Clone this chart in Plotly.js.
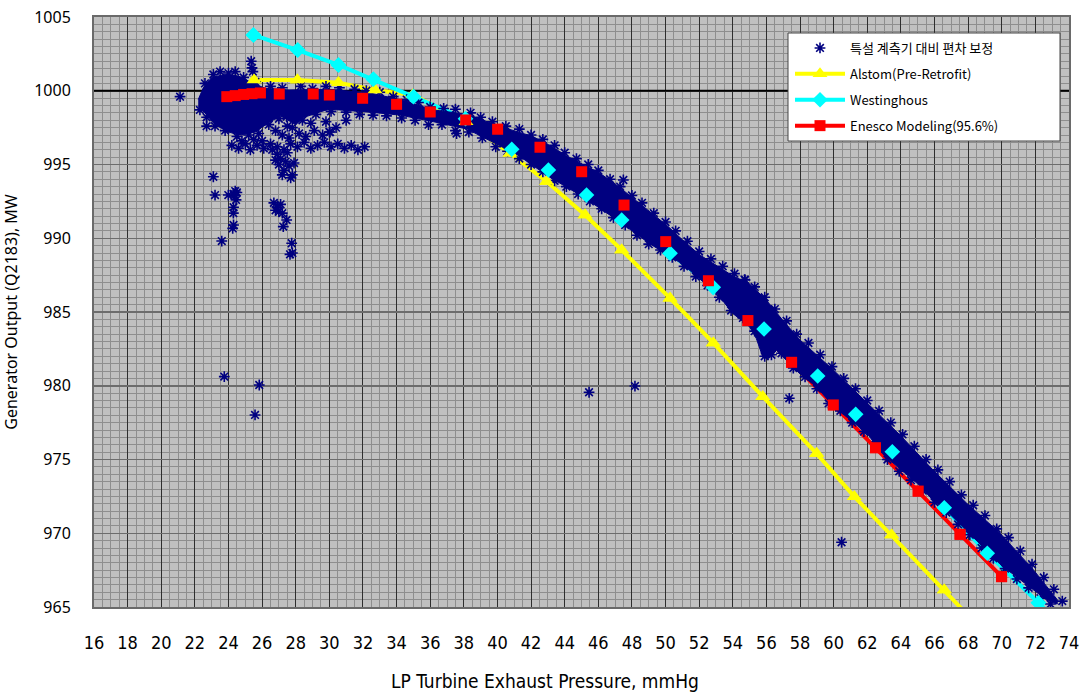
<!DOCTYPE html>
<html>
<head>
<meta charset="utf-8">
<script src="https://cdn.plot.ly/plotly-3.0.1.min.js"></script>
<style>html,body{margin:0;padding:0;background:#fff;}#chart{width:1083px;height:694px;}</style>
</head>
<body>
<div id="chart"></div>
<script>
// ---------- series names ----------
const scatterName = '특설 계측기 대비 편차 보정';
const alstomName = 'Alstom(Pre-Retrofit)';
const westName = 'Westinghous';
const enescoName = 'Enesco Modeling(95.6%)';

// ---------- design curves ----------
const alstomX = [25.52, 28.1, 30.54, 32.72, 34.96, 38.13, 40.75, 42.93, 45.21, 47.39, 50.27, 52.84, 55.78, 58.99, 61.23, 63.45, 66.58, 69.7];
const alstomY = [1000.73, 1000.73, 1000.55, 1000.05, 999.71, 997.9, 995.76, 993.84, 991.58, 989.2, 985.93, 982.9, 979.26, 975.4, 972.48, 969.88, 966.15, 962.4];

const westX = [25.48, 28.12, 30.54, 32.62, 35.0, 38.1, 40.85, 43.03, 45.3, 47.39, 50.27, 52.84, 55.86, 59.05, 61.31, 63.49, 66.58, 69.14, 72.18, 73.6];
const westY = [1003.78, 1002.76, 1001.75, 1000.78, 999.6, 998.1, 996.03, 994.63, 992.93, 991.24, 988.98, 986.67, 983.85, 980.66, 978.06, 975.53, 971.73, 968.64, 965.29, 963.7];

const enescoX = [23.9, 24.4, 24.9, 25.4, 25.9, 27.02, 29.04, 30.0, 31.98, 34.0, 36.0, 38.11, 40.01, 42.53, 45.01, 47.53, 50.01, 52.55, 54.9, 57.5, 59.98, 62.49, 65.03, 67.52, 69.99];
const enescoY = [999.6, 999.67, 999.75, 999.8, 999.85, 999.78, 999.78, 999.71, 999.49, 999.08, 998.56, 998.02, 997.39, 996.17, 994.51, 992.25, 989.77, 987.12, 984.42, 981.59, 978.7, 975.8, 972.86, 969.93, 967.06];

// ---------- reference line (1000 MW) ----------
const refX = [16, 74];
const refY = [1000, 1000];

const bandOutlineX = [22.2, 22.5, 23.0, 23.8, 24.6, 25.3, 26.2, 27.6, 30.0, 32.4, 34.2, 36.2, 38.2, 40.1, 42.1, 43.1, 44.1, 45.1, 46.1, 47.1, 48.1, 49.1, 50.1, 51.0, 52.0, 53.1, 54.0, 55.0, 56.0, 57.0, 58.0, 60.0, 62.0, 64.0, 65.9, 67.9, 69.9, 71.9, 73.3,
  73.3, 72.7, 71.9, 70.9, 69.9, 68.9, 67.9, 66.9, 65.9, 65.0, 64.0, 62.9, 62.0, 61.0, 60.0, 59.0, 58.0, 56.6, 56.2, 55.8, 55.4, 55.0, 54.0, 53.1, 51.0, 49.1, 47.1, 45.1, 43.1, 41.2, 40.1, 38.2, 36.2, 34.2, 32.4, 30.0, 29.4, 28.5, 28.0, 27.1, 26.4, 25.6, 24.7, 24.0, 23.2, 22.6, 22.2];
const bandOutlineY = [999.4, 1000.2, 1000.9, 1001.1, 1001.0, 1000.6, 1000.15, 1000.05, 1000.1, 999.85, 999.4, 998.7, 998.4, 997.6, 996.9, 996.3, 995.6, 995.0, 994.4, 993.6, 992.7, 991.75, 990.85, 989.9, 988.9, 988.1, 987.45, 986.9, 985.8, 984.4, 983.1, 981.05, 978.8, 976.6, 974.3, 972.05, 970.0, 967.5, 965.5,
  965.2, 965.45, 966.15, 967.05, 967.9, 969.05, 970.2, 971.3, 972.25, 973.35, 974.3, 975.4, 976.75, 977.7, 978.6, 979.9, 980.8, 982.4, 981.9, 981.9, 983.2, 984.0, 984.9, 986.2, 988.25, 989.6, 991.25, 992.8, 994.15, 995.65, 996.3, 997.4, 997.9, 998.35, 998.55, 998.75, 998.55, 998.2, 997.7, 998.3, 997.85, 997.2, 997.0, 997.2, 997.7, 998.5, 998.9];

// ---------- individual measured points (x, y pairs) ----------
const bandTopPts = [[22.6,1000.5],[23.1,1001.1],[23.5,1001.3],[24.0,1001.2],[24.4,1001.3],[24.9,1000.9],[25.6,1000.6],[26.5,1000.3],[27.2,1000.2],[28.3,1000.3],[29.0,1000.15],[29.8,1000.3],[30.6,1000.2],[31.5,1000.1],[32.2,1000.0],[33.0,999.9],[33.8,999.6],[34.6,999.4],[35.3,999.2],[36.0,998.9],[36.8,998.8],[37.5,998.75],[38.4,998.5],[39.0,998.2],[39.7,997.9],[40.5,997.6],[41.3,997.4],[42.0,997.0],[42.7,996.7],[43.4,996.3],[44.0,995.8],[44.7,995.4],[45.4,995.0],[46.0,994.6],[46.7,994.0],[47.3,993.5],[48.0,992.9],[48.6,992.4],[49.3,991.7],[50.0,991.1],[50.6,990.5],[51.3,989.8],[52.0,989.1],[52.7,988.6],[53.4,988.1],[54.1,987.6],[54.7,987.2],[55.3,986.7],[55.9,986.0],[56.5,985.2],[57.2,984.4],[57.8,983.5],[58.5,982.9],[59.2,982.1],[59.9,981.3],[60.6,980.5],[61.3,979.8],[62.0,979.0],[62.7,978.3],[63.4,977.5],[64.1,976.7],[64.8,975.9],[65.5,975.0],[66.2,974.3],[66.9,973.5],[67.6,972.6],[68.3,971.9],[69.0,971.2],[69.7,970.3],[70.4,969.7],[71.1,968.8],[71.8,967.9],[72.5,967.0],[73.1,966.2],[73.6,965.4]];
const bandBotPts = [[22.3,998.7],[22.7,998.2],[23.2,997.6],[23.8,997.3],[24.5,996.9],[25.2,997.0],[25.8,997.1],[26.4,997.7],[27.0,998.1],[27.8,997.5],[28.4,998.0],[29.2,998.4],[30.1,998.6],[31.0,998.55],[31.8,998.4],[32.6,998.35],[33.4,998.3],[34.3,998.15],[35.1,998.0],[35.9,997.7],[36.7,997.7],[37.5,997.3],[38.3,997.2],[39.1,996.8],[39.9,996.2],[40.6,995.9],[41.3,995.4],[42.0,995.0],[42.7,994.5],[43.4,993.9],[44.1,993.5],[44.8,993.0],[45.5,992.5],[46.2,992.0],[46.9,991.4],[47.6,990.9],[48.3,990.2],[49.0,989.6],[49.7,989.2],[50.4,988.7],[51.1,988.1],[51.8,987.4],[52.5,986.8],[53.2,986.0],[53.9,985.1],[54.6,984.6],[55.3,983.7],[55.9,982.0],[56.3,982.1],[56.9,982.2],[57.6,981.2],[58.3,980.6],[59.0,979.8],[59.7,978.8],[60.4,978.3],[61.1,977.5],[61.8,976.9],[62.5,976.0],[63.2,975.0],[63.9,974.2],[64.6,973.6],[65.3,972.9],[66.0,972.1],[66.7,971.4],[67.4,970.6],[68.1,969.9],[68.8,969.0],[69.5,968.3],[70.2,967.6],[70.9,966.9],[71.6,966.3],[72.3,965.6],[72.9,965.2]];
const armPts = [[24.2,996.3],[24.6,996.1],[25.0,996.4],[25.3,996.0],[25.7,996.3],[26.1,996.1],[26.5,996.4],[26.9,996.2],[27.3,996.0],[27.7,996.4],[28.1,996.2],[28.5,996.5],[28.9,996.1],[29.3,996.3],[29.7,996.5],[30.1,996.2],[30.5,996.4],[30.9,996.1],[31.3,996.3],[31.7,996.0],[32.1,996.2],
  [26.8,997.3],[27.2,997.0],[27.6,996.8],[28.2,997.1],[28.6,996.9],[29.1,997.3],[29.6,997.0],[30.0,997.2],[30.4,997.5],[27.5,997.6],[28.9,997.8],[29.8,997.9],[31.0,998.0],[27.46,998.24],[30.04,997.2],[25.5,996.7],[26.0,996.6],[24.8,996.6]];
const clusterPts = [[26.6,996.0],[26.9,995.7],[27.1,995.4],[27.4,995.2],[27.6,994.9],[27.3,994.6],[27.8,994.3],[27.5,995.8],[27.0,995.0],[27.7,994.1],[26.8,995.3],[27.9,995.1],[27.2,994.3],
  [26.7,992.4],[26.9,992.1],[27.1,992.3],[27.0,991.8],[27.2,991.7],[26.8,991.9],[27.46,991.24],[27.26,990.79],[27.76,989.66],[27.66,988.91],[27.8,989.0],
  [23.1,994.17],[23.2,992.93],[23.99,992.93],[24.4,993.2],[24.35,992.9],[24.45,992.6],[24.3,993.0],[24.5,993.1],[24.29,991.7],[24.3,992.1],[24.25,990.67],[24.3,990.9],[23.6,989.81]];
const outlierPts = [[23.75,980.62],[25.83,980.05],[25.58,978.02],[45.45,979.56],[48.18,979.98],[57.36,979.15],[60.47,969.39],[21.12,999.6],[22.7,997.6],[25.35,1002.0],[25.4,1001.55],[25.45,1001.3],[47.49,993.95],[37.57,997.1],[54.73,987.17]];

// ---------- axes ----------
const xRange = [16, 74];
const yRange = [965, 1005];

// ---------- build ----------
const allPts = [].concat(bandTopPts, bandBotPts, armPts, clusterPts, outlierPts);
const navy = '#000080';
const condensed = '"Liberation Sans Narrow", "DejaVu Sans Condensed", "Roboto Condensed", "Noto Sans", sans-serif';

const traces = [
  {x: refX, y: refY, mode: 'lines', line: {color: '#000', width: 2}, showlegend: false, hoverinfo: 'skip'},
  {x: alstomX, y: alstomY, name: alstomName, mode: 'lines+markers', legendrank: 2, legendgroup: 'b',
   line: {color: '#ffff00', width: 4}, marker: {symbol: 'triangle-up', size: 13, color: '#ffff00'}},
  {x: westX, y: westY, name: westName, mode: 'lines+markers', legendrank: 3, legendgroup: 'c',
   line: {color: '#00ffff', width: 4}, marker: {symbol: 'diamond', size: 12, color: '#00ffff'}},
  {x: enescoX, y: enescoY, name: enescoName, mode: 'lines+markers', legendrank: 4, legendgroup: 'd',
   line: {color: '#ff0000', width: 4}, marker: {symbol: 'square', size: 11, color: '#ff0000'}},
  {x: bandOutlineX, y: bandOutlineY, mode: 'lines', fill: 'toself', fillcolor: navy,
   line: {color: navy, width: 1}, showlegend: false, hoverinfo: 'skip'},
  {x: allPts.map(p => p[0]), y: allPts.map(p => p[1]), name: scatterName, mode: 'markers', legendrank: 1, legendgroup: 'a',
   marker: {symbol: 'asterisk-open', size: 9, color: navy, line: {color: navy, width: 1.6}}},
  {x: alstomX, y: alstomY, mode: 'markers', showlegend: false, marker: {symbol: 'triangle-up', size: 13, color: '#ffff00'}},
  {x: westX, y: westY, mode: 'markers', showlegend: false, marker: {symbol: 'diamond', size: 12, color: '#00ffff'}},
  {x: enescoX, y: enescoY, mode: 'markers', showlegend: false, marker: {symbol: 'square', size: 11, color: '#ff0000'}}
];

const L = 94, R = 14, T = 17, B = 87;
const W = 1083, H = 694;
const pw = W - L - R, ph = H - T - B;
const px2x = p => (p - L) / pw;
const px2y = p => (H - B - p) / ph;

const layout = {
  width: W, height: H,
  margin: {l: L, r: R, t: T, b: B, pad: 0},
  paper_bgcolor: '#ffffff',
  plot_bgcolor: '#c0c0c0',
  showlegend: true,
  xaxis: {
    range: xRange, tick0: 16, dtick: 2, ticks: '', showline: true, mirror: true,
    linecolor: '#6a6a6a', linewidth: 2, showgrid: true, gridcolor: '#2e2e2e', gridwidth: 1,
    zeroline: false, ticklabelstandoff: 18,
    minor: {tick0: 16, dtick: 0.5, showgrid: true, gridcolor: '#8e8e8e', gridwidth: 1, ticks: ''},
    tickfont: {family: condensed, size: 18, color: '#000'}
  },
  yaxis: {
    range: yRange, tick0: 965, dtick: 5, ticks: '', showline: true, mirror: true,
    linecolor: '#6a6a6a', linewidth: 2, showgrid: true, gridcolor: '#6c6c6c', gridwidth: 1.5,
    zeroline: false, ticklabelstandoff: 18,
    minor: {tick0: 965, dtick: 0.5, showgrid: true, gridcolor: '#8e8e8e', gridwidth: 1, ticks: ''},
    tickfont: {family: 'Noto Sans, sans-serif', size: 16, color: '#000'},
    title: {text: 'Generator Output (Q2183), MW', standoff: 14, font: {family: 'Noto Sans, sans-serif', size: 16, color: '#000'}}
  },
  legend: {
    x: px2x(790), y: px2y(33), xanchor: 'left', yanchor: 'top',
    bgcolor: 'rgba(0,0,0,0)', borderwidth: 0, traceorder: 'grouped', tracegroupgap: 6,
    itemwidth: 50,
    font: {family: '"Noto Sans CJK KR", "Noto Sans", sans-serif', size: 13, color: '#000'}
  },
  shapes: [
    {type: 'rect', xref: 'paper', yref: 'paper', x0: px2x(788), x1: px2x(1060), y0: px2y(141), y1: px2y(33),
     fillcolor: '#ffffff', line: {color: '#444444', width: 1}, layer: 'above'}
  ],
  annotations: [
    {text: 'LP Turbine Exhaust Pressure, mmHg', xref: 'paper', yref: 'paper', x: px2x(545), y: px2y(681),
     xanchor: 'center', yanchor: 'middle', showarrow: false,
     font: {family: condensed, size: 19, color: '#000'}}
  ]
};

Plotly.newPlot('chart', traces, layout, {displayModeBar: false, staticPlot: true});
</script>
</body>
</html>
